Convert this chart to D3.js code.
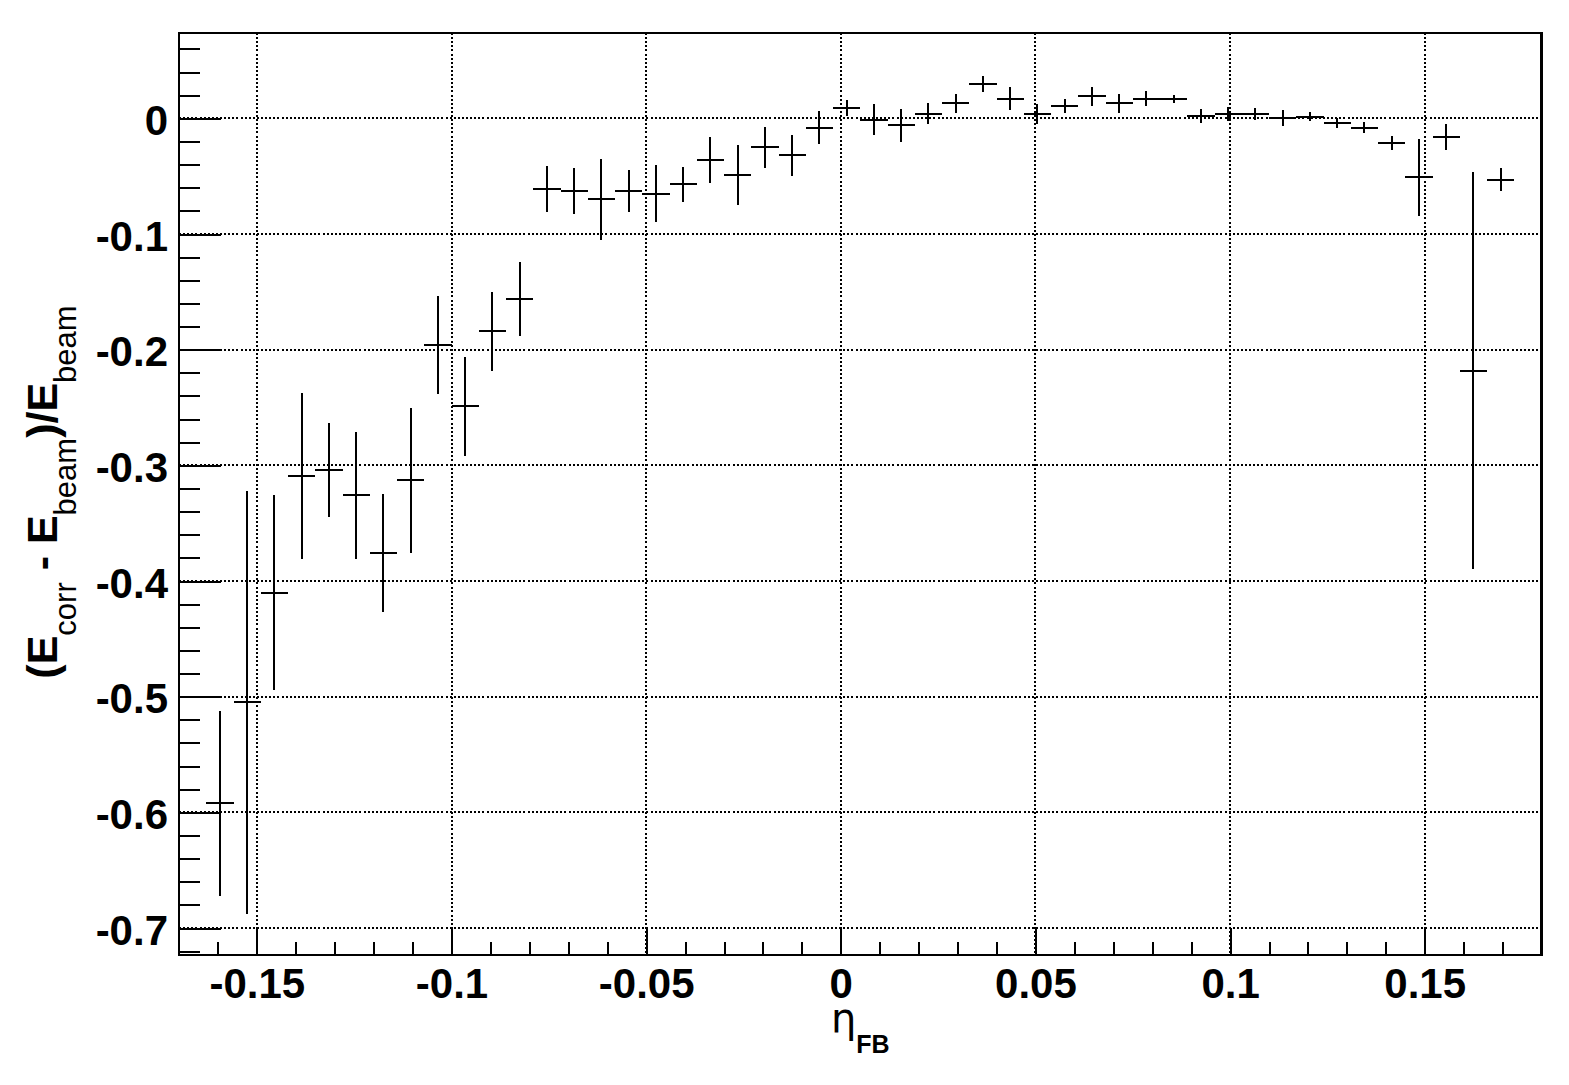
<!DOCTYPE html>
<html>
<head>
<meta charset="utf-8">
<script src="https://cdn.jsdelivr.net/npm/d3@7"></script>
<style>
  html, body { margin: 0; padding: 0; background: #fff; }
  svg { display: block; }
  text { font-family: "Liberation Sans", Arial, Helvetica, sans-serif; fill: #000; }
</style>
</head>
<body>
<svg id="chart" width="1569" height="1085"></svg>
<script>
// ---- data ----
const eta = [-0.1595, -0.1525, -0.1455, -0.1385, -0.1315, -0.1245, -0.1175, -0.1105,
  -0.1035, -0.0965, -0.0895, -0.0825, -0.0755, -0.0685, -0.0615, -0.0545,
  -0.0475, -0.0405, -0.0335, -0.0265, -0.0195, -0.0125, -0.0055, 0.0015,
  0.0085, 0.0155, 0.0225, 0.0295, 0.0365, 0.0435, 0.0505, 0.0575,
  0.0645, 0.0715, 0.0785, 0.0855, 0.0925, 0.0995, 0.1065, 0.1135,
  0.1205, 0.1275, 0.1345, 0.1415, 0.1485, 0.1555, 0.1625, 0.1695];
const response = [-0.592, -0.505, -0.410, -0.309, -0.304, -0.326, -0.376, -0.313,
  -0.196, -0.249, -0.184, -0.156, -0.061, -0.063, -0.070, -0.063,
  -0.065, -0.057, -0.036, -0.049, -0.025, -0.032, -0.008, 0.009,
  -0.001, -0.006, 0.004, 0.013, 0.030, 0.017, 0.004, 0.011,
  0.019, 0.013, 0.017, 0.017, 0.002, 0.004, 0.004, 0.000,
  0.0015, -0.004, -0.008, -0.021, -0.051, -0.016, -0.218, -0.053];
const responseErr = [0.080, 0.183, 0.084, 0.072, 0.041, 0.055, 0.051, 0.063,
  0.042, 0.043, 0.034, 0.032, 0.020, 0.020, 0.035, 0.018,
  0.025, 0.015, 0.020, 0.026, 0.0175, 0.0176, 0.0145, 0.007,
  0.013, 0.0145, 0.009, 0.008, 0.007, 0.010, 0.0087, 0.006,
  0.008, 0.008, 0.0063, 0.0035, 0.006, 0.006, 0.005, 0.007,
  0.004, 0.0043, 0.0046, 0.006, 0.0335, 0.0113, 0.172, 0.0102];
const binWidth = 0.007;
const xDomain = [-0.17, 0.18];
const yDomain = [-0.7233, 0.0738];
const xMajorTicks = [-0.15, -0.1, -0.05, 0, 0.05, 0.1, 0.15];
const xMinorTicks = [-0.16, -0.14, -0.13, -0.12, -0.11, -0.09, -0.08, -0.07, -0.06,
  -0.04, -0.03, -0.02, -0.01, 0.01, 0.02, 0.03, 0.04, 0.06, 0.07, 0.08, 0.09,
  0.11, 0.12, 0.13, 0.14, 0.16, 0.17];
const yMajorTicks = [-0.7, -0.6, -0.5, -0.4, -0.3, -0.2, -0.1, 0];
const yMinorTicks = [-0.72, -0.68, -0.66, -0.64, -0.62, -0.58, -0.56, -0.54, -0.52,
  -0.48, -0.46, -0.44, -0.42, -0.38, -0.36, -0.34, -0.32, -0.28, -0.26, -0.24, -0.22,
  -0.18, -0.16, -0.14, -0.12, -0.08, -0.06, -0.04, -0.02, 0.02, 0.04, 0.06];

// ---- layout ----
const L = 179, R = 1541.5, T = 33, B = 955;
const svg = d3.select("#chart");
const x = d3.scaleLinear().domain(xDomain).range([L, R]);
const y = d3.scaleLinear().domain(yDomain).range([B, T]);
const fmt = d => d === 0 ? "0" : String(+d.toFixed(2));

// grid
const grid = svg.append("g").attr("stroke", "#000").attr("stroke-width", 2)
  .attr("stroke-dasharray", "2,2.1").attr("shape-rendering", "crispEdges");
grid.selectAll("line.gx").data(xMajorTicks).join("line")
  .attr("x1", d => x(d)).attr("x2", d => x(d)).attr("y1", T).attr("y2", B);
grid.selectAll("line.gy").data(yMajorTicks).join("line")
  .attr("x1", L).attr("x2", R).attr("y1", d => y(d)).attr("y2", d => y(d));

// axes
function styleAxis(g) {
  g.select(".domain").remove();
  g.selectAll(".tick line").attr("stroke", "#000").attr("stroke-width", 2)
    .attr("shape-rendering", "crispEdges");
  g.selectAll("text").attr("font-size", 42).attr("font-weight", "bold").attr("fill", "#000");
}
svg.append("g").attr("transform", `translate(${L},0)`)
  .call(d3.axisLeft(y).tickValues(yMinorTicks).tickSize(-21).tickFormat(""))
  .call(styleAxis);
svg.append("g").attr("transform", `translate(${L},0)`)
  .call(d3.axisLeft(y).tickValues(yMajorTicks).tickSize(-42).tickPadding(11).tickFormat(fmt))
  .call(styleAxis)
  .call(g => g.selectAll("text").attr("dy", "0.38em"));
svg.append("g").attr("transform", `translate(0,${B})`)
  .call(d3.axisBottom(x).tickValues(xMinorTicks).tickSize(-13).tickFormat(""))
  .call(styleAxis);
svg.append("g").attr("transform", `translate(0,${B})`)
  .call(d3.axisBottom(x).tickValues(xMajorTicks).tickSize(-27).tickPadding(13).tickFormat(fmt))
  .call(styleAxis);

// frame
svg.append("rect").attr("x", L).attr("y", T).attr("width", R - L).attr("height", B - T)
  .attr("fill", "none").attr("stroke", "#000").attr("stroke-width", 2.5)
  .attr("shape-rendering", "crispEdges");

// data points with error bars
const pts = eta.map((e, i) => ({ e, v: response[i], s: responseErr[i] }));
const marks = svg.append("g").attr("stroke", "#000").attr("stroke-width", 2)
  .attr("shape-rendering", "crispEdges");
marks.selectAll("line.v").data(pts).join("line").attr("class", "v")
  .attr("x1", d => x(d.e)).attr("x2", d => x(d.e))
  .attr("y1", d => y(d.v + d.s)).attr("y2", d => y(d.v - d.s));
marks.selectAll("line.h").data(pts).join("line").attr("class", "h")
  .attr("x1", d => x(d.e - binWidth / 2)).attr("x2", d => x(d.e + binWidth / 2))
  .attr("y1", d => y(d.v)).attr("y2", d => y(d.v));

// y title
const yt = svg.append("text")
  .attr("transform", `translate(57,${(T + B) / 2 - 2}) rotate(-90)`)
  .attr("text-anchor", "middle");
const big = { "font-size": 43, "font-weight": "bold" };
const sub = { "font-size": 31, "font-weight": "normal" };
function span(parent, txt, style, dy) {
  const s = parent.append("tspan").text(txt);
  Object.entries(style).forEach(([k, v]) => s.attr(k, v));
  if (dy) s.attr("dy", dy);
  return s;
}
span(yt, "(E", big);
span(yt, "corr", sub, 19);
span(yt, "\u00a0-\u00a0E", big, -19);
span(yt, "beam", sub, 19);
span(yt, ")/E", big, -19);
span(yt, "beam", sub, 19);

// x title
const xt = svg.append("text").attr("x", (L + R) / 2).attr("y", 1032).attr("text-anchor", "middle");
span(xt, "\u03b7", { "font-size": 40, "font-weight": "normal", "font-family": "DejaVu Sans" });
span(xt, "FB", { "font-size": 25, "font-weight": "bold" }, 21);
</script>
</body>
</html>
